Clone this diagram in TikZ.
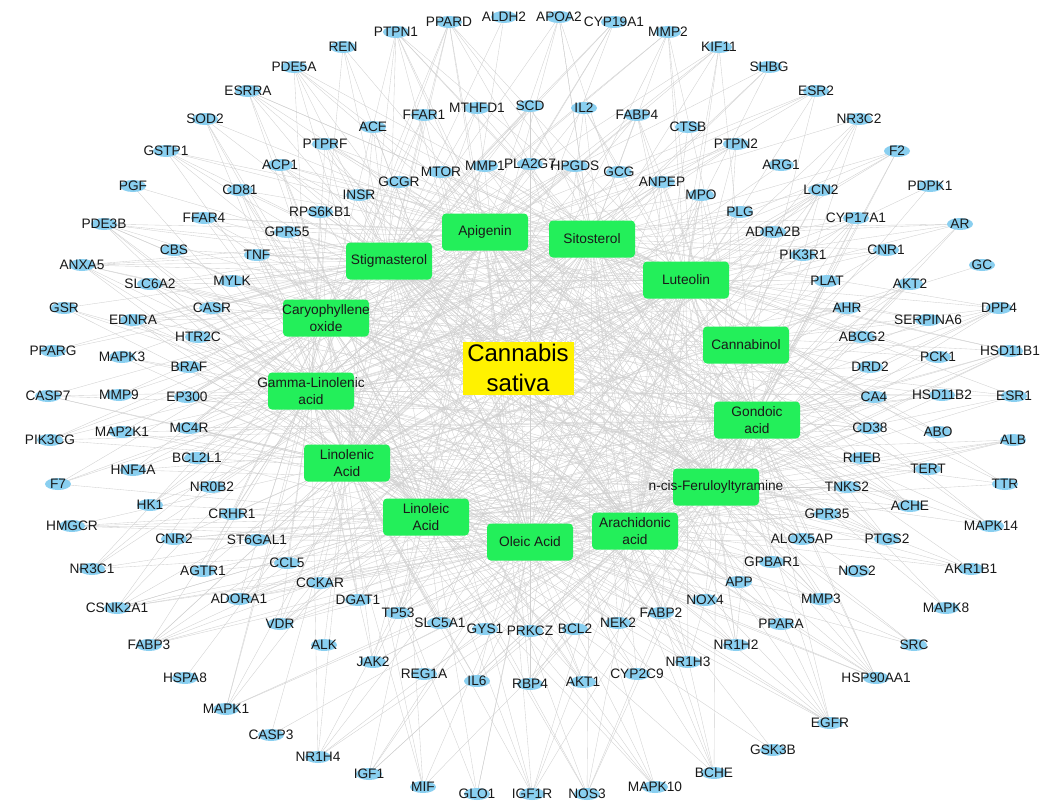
\documentclass[tikz,border=0pt]{standalone}
\usepackage{fontspec}
\setmainfont{Liberation Sans}
\pgfdeclarelayer{paper}
\pgfdeclarelayer{edges}
\pgfdeclarelayer{blobs}
\pgfsetlayers{paper,edges,blobs,main}
\definecolor{cgreen}{RGB}{35,239,90}
\definecolor{cblue}{RGB}{137,207,240}
\definecolor{cedge}{RGB}{208,208,208}
\definecolor{ctext}{RGB}{25,25,25}
\begin{document}
\begin{tikzpicture}[x=1pt,y=-1pt,
  gene/.style={inner sep=0pt, font=\fontsize{13.7}{16}\selectfont, text=ctext},
  comp/.style={rectangle, rounded corners=4pt, fill=cgreen, minimum width=86pt, minimum height=37pt, inner sep=0pt},
  complabel/.style={inner sep=0pt, font=\fontsize{13.7}{17}\selectfont, align=center, text=ctext},
  herbbox/.style={rectangle, fill=yellow, minimum width=111pt, minimum height=53pt, inner sep=0pt, font=\fontsize{24}{30}\selectfont, align=center},
  edge/.style={draw=cedge, line width=0.35pt},
  blob/.style={fill=cblue}]
\useasboundingbox (0,0) rectangle (1057,801);
\begin{pgfonlayer}{paper}
\fill[white] (0,0) rectangle (1057,801);
\end{pgfonlayer}

% genes
\foreach \x/\y/\n [count=\i] in {
343/47/REN, 396/32/PTPN1, 449/22/PPARD, 504/17/ALDH2, 559/17/APOA2, 614/22/CYP19A1, 668/32/MMP2, 719/47/KIF11, 769/67/SHBG, 816/91/ESR2, 859/119/NR3C2, 897/151/F2, 930/186/PDPK1, 960/224/AR, 982/265/GC, 999/308/DPP4, 1010/351/HSD11B1, 1014/396/ESR1, 1013/440/ALB, 1005/484/TTR, 991/526/MAPK14, 971/569/AKR1B1, 946/608/MAPK8, 914/645/SRC, 876/678/HSP90AA1, 830/723/EGFR, 773/750/GSK3B, 714/773/BCHE, 655/787/MAPK10, 587/794/NOS3, 532/794/IGF1R, 477/794/GLO1, 423/787/MIF, 369/774/IGF1, 318/757/NR1H4, 271/735/CASP3, 226/709/MAPK1, 185/678/HSPA8, 149/645/FABP3, 117/608/CSNK2A1, 92/569/NR3C1, 72/526/HMGCR, 58/484/F7, 50/440/PIK3CG, 48/396/CASP7, 53/351/PPARG, 64/308/GSR, 82/265/ANXA5, 104/224/PDE3B, 133/186/PGF, 166/151/GSTP1, 205/119/SOD2, 248/91/ESRRA, 294/67/PDE5A,
477/108/MTHFD1, 530/106/SCD, 584/108/IL2, 637/115/FABP4, 688/127/CTSB, 736/144/PTPN2, 781/165/ARG1, 821/190/LCN2, 856/218/CYP17A1, 886/250/CNR1, 910/284/AKT2, 928/320/SERPINA6, 938/357/PCK1, 942/395/HSD11B2, 938/432/ABO, 928/469/TERT, 910/506/ACHE, 887/539/PTGS2, 857/571/NOS2, 821/599/MMP3, 781/624/PPARA, 736/645/NR1H2, 688/662/NR1H3, 637/674/CYP2C9, 583/682/AKT1, 530/684/RBP4, 477/681/IL6, 424/674/REG1A, 373/662/JAK2, 324/645/ALK, 280/624/VDR, 239/599/ADORA1, 203/571/AGTR1, 174/539/CNR2, 150/505/HK1, 133/470/HNF4A, 122/432/MAP2K1, 119/395/MMP9, 122/357/MAPK3, 133/320/EDNRA, 150/284/SLC6A2, 174/250/CBS, 204/218/FFAR4, 240/190/CD81, 280/165/ACP1, 325/144/PTPRF, 373/127/ACE, 424/115/FFAR1,
441/172/MTOR, 485/166/MMP1, 530/164/PLA2G7, 575/166/HPGDS, 619/172/GCG, 662/182/ANPEP, 701/195/MPO, 740/212/PLG, 773/232/ADRA2B, 803/255/PIK3R1, 827/281/PLAT, 847/308/AHR, 862/337/ABCG2, 870/367/DRD2, 874/397/CA4, 870/428/CD38, 862/458/RHEB, 847/487/TNKS2, 827/514/GPR35, 802/539/ALOX5AP, 772/562/GPBAR1, 739/582/APP, 705/600/NOX4, 661/613/FABP2, 618/623/NEK2, 575/629/BCL2, 530/631/PRKCZ, 485/629/GYS1, 440/623/SLC5A1, 398/613/TP53, 358/600/DGAT1, 320/583/CCKAR, 287/563/CCL5, 257/540/ST6GAL1, 232/514/CRHR1, 212/487/NR0B2, 197/458/BCL2L1, 189/428/MC4R, 187/397/EP300, 189/367/BRAF, 198/337/HTR2C, 212/308/CASR, 232/281/MYLK, 257/255/TNF, 287/232/GPR55, 320/212/RPS6KB1, 359/195/INSR, 399/182/GCGR}
  \node[gene] (g\i) at (\x,\y) {\n};

% compounds
\node[comp] (c1) at (485,232) {};
\node[comp] (c2) at (592,239) {};
\node[comp] (c3) at (686,280) {};
\node[comp] (c4) at (746,345) {};
\node[comp] (c5) at (757,420) {};
\node[comp] (c6) at (716,487) {};
\node[comp] (c7) at (635,531) {};
\node[comp] (c8) at (530,542) {};
\node[comp] (c9) at (426,517) {};
\node[comp] (c10) at (347,463) {};
\node[comp] (c11) at (311,391) {};
\node[comp] (c12) at (326,318) {};
\node[comp] (c13) at (389,261) {};
\node[complabel] (t1) at (c1) {Apigenin};
\node[complabel] (t2) at (c2) {Sitosterol};
\node[complabel] (t3) at (c3) {Luteolin};
\node[complabel] (t4) at (c4) {Cannabinol};
\node[complabel] (t5) at (c5) {Gondoic\\acid};
\node[complabel] (t6) at (c6) {n-cis-Feruloyltyramine};
\node[complabel] (t7) at (c7) {Arachidonic\\acid};
\node[complabel] (t8) at (c8) {Oleic Acid};
\node[complabel] (t9) at (c9) {Linoleic\\Acid};
\node[complabel] (t10) at (c10) {Linolenic\\Acid};
\node[complabel] (t11) at (c11) {Gamma-Linolenic\\acid};
\node[complabel] (t12) at (c12) {Caryophyllene\\oxide};
\node[complabel] (t13) at (c13) {Stigmasterol};

\node[herbbox] (herb) at (518,368) {Cannabis\\sativa};

\begin{pgfonlayer}{blobs}
\foreach \i in {1,...,150} \fill[blob] (g\i.center) ellipse (13 and 6);
\end{pgfonlayer}

\begin{pgfonlayer}{edges}
\foreach \i in {1,...,150}{
  \foreach \j in {1,...,13}{
    \pgfmathtruncatemacro\h{mod(\i*\j*5+\i*3+\j*\j*7,23)}
    \ifnum\h<10 \draw[edge] (g\i.center) -- (c\j.center);\fi
  }
}
\foreach \j in {1,...,13} \draw[edge] (herb.center) -- (c\j.center);
\end{pgfonlayer}
\end{tikzpicture}
\end{document}
